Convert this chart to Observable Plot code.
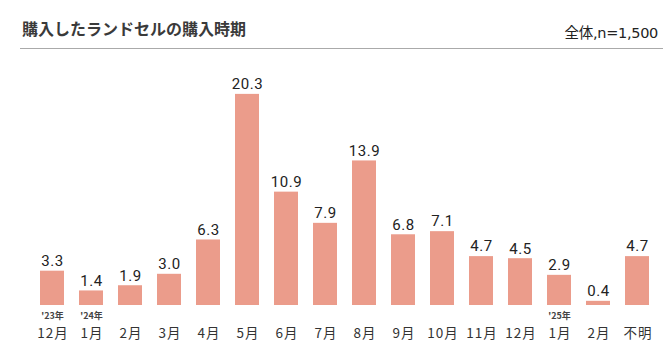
<!DOCTYPE html>
<html><head><meta charset="utf-8">
<script src="https://cdn.jsdelivr.net/npm/d3@7"></script>
<script src="https://cdn.jsdelivr.net/npm/@observablehq/plot@0.6"></script>
<style>
body{margin:0;background:#fff;font-family:"Noto Sans CJK JP","Noto Sans",sans-serif;}
#wrap{position:relative;width:666px;height:352px;overflow:hidden;}
#title{position:absolute;left:22px;top:16px;font-size:16px;font-weight:bold;color:#3a3a3a;white-space:nowrap;}
#sub{position:absolute;right:8px;top:21px;font-size:14.5px;color:#222;white-space:nowrap;font-family:"DejaVu Sans","Noto Sans CJK JP",sans-serif;letter-spacing:-0.3px;}
#rule{position:absolute;left:20px;width:643px;top:48px;height:0;border-top:1.5px solid #aaa;}
#chart{position:absolute;left:0;top:0;}
</style></head>
<body><div id="wrap"><div id="title">購入したランドセルの購入時期</div><div id="sub">全体,n=1,500</div><div id="rule"></div><div id="chart"></div></div>
<script>
const months = ["12月","1月","2月","3月","4月","5月","6月","7月","8月","9月","10月","11月","12月","1月","2月","不明"];
const years = ["'23年","'24年","","","","","","","","","","","","'25年","",""];
const values = [3.3,1.4,1.9,3.0,6.3,20.3,10.9,7.9,13.9,6.8,7.1,4.7,4.5,2.9,0.4,4.7];
const data = months.map((m,i)=>({key:i,month:m,year:years[i],value:values[i]}));
const plot = Plot.plot({
  width:666,height:352,
  marginTop:45,marginBottom:47,marginLeft:22,marginRight:0,
  style:{fontFamily:"'Noto Sans CJK JP','Noto Sans',sans-serif",background:"transparent"},
  x:{type:"band",domain:data.map(d=>d.key),padding:0.39,axis:null},
  y:{domain:[0,25],axis:null},
  marks:[
    Plot.barY(data,{x:"key",y:"value",fill:"#EB9C8B"}),
    Plot.text(data,{x:"key",y:"value",text:d=>d.value.toFixed(1),dy:-10,lineAnchor:"middle",fontSize:15,fill:"#222",fontFamily:"Roboto, 'Noto Sans', sans-serif",className:"vlab"}),
    Plot.text(data,{x:"key",frameAnchor:"bottom",text:"month",dy:28,dx:0.5,lineAnchor:"middle",fontSize:13.5,fill:"#333",className:"mlab"}),
    Plot.text(data,{x:"key",frameAnchor:"bottom",text:"year",dy:11,lineAnchor:"middle",fontSize:9,fontWeight:"bold",fill:"#444"})
  ]
});
d3.select(plot).selectAll(".vlab text").style("letter-spacing","0.6px");
d3.select(plot).selectAll(".mlab text").style("letter-spacing","1px");
document.getElementById("chart").appendChild(plot);
</script></body></html>
